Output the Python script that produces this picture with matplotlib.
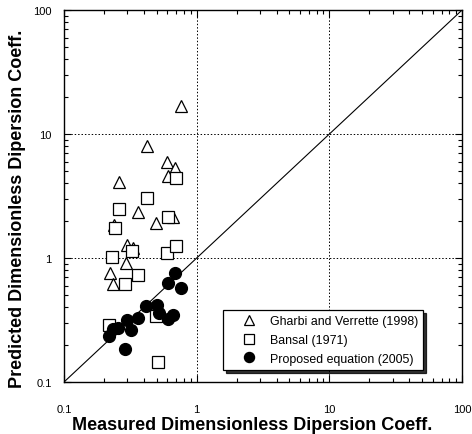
import matplotlib
matplotlib.use("Agg")
import matplotlib.pyplot as plt
from matplotlib.ticker import LogLocator, NullFormatter, FixedFormatter, FixedLocator

plt.rcParams['font.family'] = ['Liberation Sans', 'DejaVu Sans']

# Gharbi and Verrette (1998)
gharbi_x = [0.763, 0.423, 0.598, 0.692, 0.612, 0.260, 0.362, 0.497, 0.668, 0.238,
            0.297, 0.330, 0.292, 0.222, 0.232]
gharbi_y = [16.8, 8.0, 5.95, 5.35, 4.59, 4.10, 2.36, 1.93, 2.14, 1.83,
            1.27, 1.21, 0.917, 0.752, 0.613]

# Bansal (1971)
bansal_x = [0.700, 0.423, 0.261, 0.241, 0.612, 0.326, 0.601, 0.698, 0.230, 0.360,
            0.290, 0.218, 0.494, 0.515]
bansal_y = [4.44, 3.07, 2.50, 1.76, 2.14, 1.14, 1.09, 1.25, 1.02, 0.725,
            0.621, 0.286, 0.341, 0.145]

# Proposed equation (2005)
prop_x = [0.688, 0.605, 0.763, 0.416, 0.500, 0.517, 0.612, 0.668, 0.360, 0.297,
          0.318, 0.257, 0.236, 0.220, 0.288]
prop_y = [0.752, 0.632, 0.569, 0.410, 0.415, 0.362, 0.320, 0.347, 0.330, 0.316,
          0.263, 0.274, 0.266, 0.235, 0.183]

tick_vals = [0.1, 1, 10, 100]
tick_labels = ['0.1', '1', '10', '100']

fig = plt.figure(figsize=(4.72, 4.35), dpi=100)
ax = fig.add_axes([0.1356, 0.1195, 0.8434, 0.8552])
ax.set_xscale('log')
ax.set_yscale('log')
ax.set_xlim(0.1, 100)
ax.set_ylim(0.1, 100)

# grid lines at 1 and 10
for v in [1, 10]:
    ax.axvline(v, color='black', lw=0.7, ls=(0, (1.5, 2)), zorder=1)
    ax.axhline(v, color='black', lw=0.7, ls=(0, (1.5, 2)), zorder=1)

# 1:1 line
ax.plot([0.1, 100], [0.1, 100], color='black', lw=0.8, zorder=2)

ax.plot(gharbi_x, gharbi_y, ls='none', marker='^', ms=8.5, mfc='white', mec='black',
        mew=0.9, label='Gharbi and Verrette (1998)', zorder=3)
ax.plot(bansal_x, bansal_y, ls='none', marker='s', ms=8, mfc='white', mec='black',
        mew=0.9, label='Bansal (1971)', zorder=3)
ax.plot(prop_x, prop_y, ls='none', marker='o', ms=8.5, mfc='black', mec='black',
        label='Proposed equation (2005)', zorder=4)

ax.xaxis.set_major_locator(FixedLocator(tick_vals))
ax.yaxis.set_major_locator(FixedLocator(tick_vals))
ax.xaxis.set_major_formatter(FixedFormatter(tick_labels))
ax.yaxis.set_major_formatter(FixedFormatter(tick_labels))
ax.xaxis.set_minor_locator(LogLocator(base=10, subs=range(2, 10)))
ax.yaxis.set_minor_locator(LogLocator(base=10, subs=range(2, 10)))
ax.xaxis.set_minor_formatter(NullFormatter())
ax.yaxis.set_minor_formatter(NullFormatter())
ax.tick_params(which='both', direction='in', top=True, right=True, width=0.8)
ax.tick_params(which='major', length=5)
ax.tick_params(which='minor', length=3)
ax.tick_params(axis='x', which='major', pad=16, labelsize=8)
ax.tick_params(axis='y', which='major', pad=9, labelsize=8)
for s in ax.spines.values():
    s.set_linewidth(1.0)

ax.set_xlabel('Measured Dimensionless Dipersion Coeff.', fontsize=13, fontweight='bold', labelpad=1)
ax.set_ylabel('Predicted Dimensionless Dipersion Coeff.', fontsize=13, fontweight='bold', labelpad=5)
ax.xaxis.label.set_x(0.472)
ax.yaxis.label.set_y(0.468)

leg = ax.legend(loc='lower right', bbox_to_anchor=(0.903, 0.033), borderaxespad=0,
                fancybox=False, shadow={'color': 'black', 'alpha': 0.8, 'ox': 2, 'oy': -2},
                framealpha=1, edgecolor='black', fontsize=8.9, handletextpad=0.0,
                borderpad=0.4, labelspacing=0.55, handlelength=3.4, markerscale=0.85)
leg.get_frame().set_linewidth(0.9)

fig.savefig('out.png', dpi=100)
